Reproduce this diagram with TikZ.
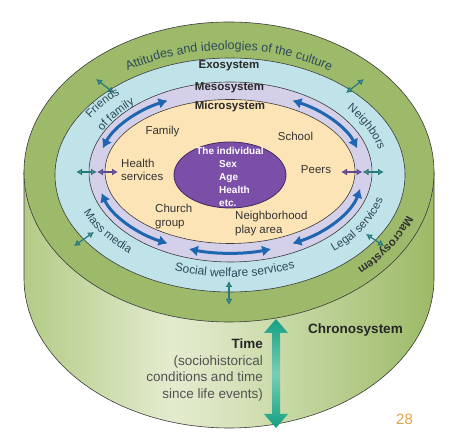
\documentclass[tikz,border=0pt]{standalone}
\usepackage{fontspec}
\setmainfont{Liberation Sans}
\usetikzlibrary{arrows.meta,decorations.text}
\definecolor{macro}{HTML}{9CBA6A}
\definecolor{exo}{HTML}{C0E2E9}
\definecolor{meso}{HTML}{D4D0EA}
\definecolor{micro}{HTML}{FDE4B6}
\definecolor{indfill}{HTML}{7B4FA8}
\definecolor{indline}{HTML}{3F2A63}
\definecolor{outl}{HTML}{3B3B3B}
\definecolor{mesoarr}{HTML}{1F66B1}
\definecolor{tealdark}{HTML}{2A7A7C}
\definecolor{teallight}{HTML}{5AA9A5}
\definecolor{purpdark}{HTML}{5E4A8E}
\definecolor{purplight}{HTML}{8C76B8}
\definecolor{chronoA}{HTML}{14A083}
\definecolor{chronoB}{HTML}{79CDB5}
\definecolor{ringtext}{HTML}{2E4A5A}
\definecolor{maintext}{HTML}{333333}
\definecolor{numcol}{HTML}{E2A244}
\definecolor{cylA}{HTML}{B3CB86}
\definecolor{cylB}{HTML}{E3EBCE}
\definecolor{cylC}{HTML}{D6E2BA}
\definecolor{cylD}{HTML}{9CBA66}
\pgfdeclarehorizontalshading{cylside}{100bp}{color(0bp)=(cylA); color(25bp)=(cylA); color(43bp)=(cylB); color(51bp)=(cylC); color(75bp)=(cylD); color(100bp)=(cylD)}
\begin{document}
\begin{tikzpicture}[x=1pt,y=1pt,
  outline/.style={draw=outl, line width=0.6pt},
  mesoarrow/.style={draw=mesoarr, line width=3pt, arrows={Latex[length=9pt,width=11pt]-Latex[length=9pt,width=11pt]}},
  tealarr/.style={draw=tealdark, line width=1.2pt, arrows={Latex[length=6pt,width=7pt,fill=teallight]-Latex[length=6pt,width=7pt,fill=teallight]}},
  purparr/.style={draw=purpdark, line width=1.2pt, arrows={Latex[length=6pt,width=7pt,fill=purplight]-Latex[length=6pt,width=7pt,fill=purplight]}},
  lab/.style={text=maintext, font=\fontsize{11.5}{13.5}\selectfont, inner sep=0pt},
  syslab/.style={text=maintext!80!black, font=\bfseries\fontsize{11.5}{13.5}\selectfont, inner sep=0pt},
  indlab/.style={text=white, font=\bfseries\fontsize{10}{12}\selectfont, inner sep=0pt, text height=1.5ex, text depth=.25ex}]
\useasboundingbox (0,0) rectangle (458,446);
\fill[white] (0,0) rectangle (458,446);
% cylinder side
\shade[shading=cylside] (24,274) -- (24,168) arc[start angle=180,end angle=360,x radius=205,y radius=150] -- (434,274) -- cycle;
\draw[outline] (24,274) -- (24,168) arc[start angle=180,end angle=360,x radius=205,y radius=150] -- (434,274);
% top face rings
\draw[outline, fill=macro] (229,274) ellipse[x radius=205, y radius=150];
\draw[outline, fill=exo] (230,271) ellipse[x radius=175, y radius=117];
\draw[outline, fill=meso] (230.5,274) ellipse[x radius=141.5, y radius=90];
\draw[outline, fill=micro] (230,274.5) ellipse[x radius=125, y radius=72];
\draw[draw=indline, fill=indfill, line width=0.8pt] (230,271) ellipse[x radius=56, y radius=33];
% mesosystem arrows
\begin{scope}[shift={(230,274)}]
\draw[mesoarrow] (163:133 and 81) arc[start angle=163, end angle=118, x radius=133, y radius=81];
\draw[mesoarrow] (62:133 and 81) arc[start angle=62, end angle=17, x radius=133, y radius=81];
\draw[mesoarrow] (195:133 and 81) arc[start angle=195, end angle=242, x radius=133, y radius=81];
\draw[mesoarrow] (-12:133 and 81) arc[start angle=-12, end angle=-62, x radius=133, y radius=81];
\draw[mesoarrow] (252:133 and 81) arc[start angle=252, end angle=288, x radius=133, y radius=81];
\end{scope}
% small connector arrows
\coordinate (l1) at (76,274); \coordinate (l2) at (97,274); \coordinate (l3) at (118,274);
\coordinate (r1) at (341,274); \coordinate (r2) at (362.5,274); \coordinate (r3) at (384,274);
\draw[tealarr] (l1) -- (l2);
\draw[purparr] (l2) -- (l3);
\draw[purparr] (r1) -- (r2);
\draw[tealarr] (r2) -- (r3);
\coordinate (tla) at (96,367); \coordinate (tlb) at (114,353);
\coordinate (tra) at (346,353); \coordinate (trb) at (364,367);
\coordinate (bla) at (74,200); \coordinate (blb) at (94,214);
\coordinate (bra) at (366,212); \coordinate (brb) at (384,200);
\coordinate (bma) at (229,165); \coordinate (bmb) at (229,141);
\draw[tealarr] (tla) -- (tlb);
\draw[tealarr] (tra) -- (trb);
\draw[tealarr] (bla) -- (blb);
\draw[tealarr] (bra) -- (brb);
\draw[tealarr] (bma) -- (bmb);
% chronosystem arrow
\shade[top color=chronoA, bottom color=chronoA, middle color=chronoB]
  (276,127) -- (288,113) -- (280,113) -- (280,32) -- (288,32) -- (276,18) -- (264,32) -- (272,32) -- (272,113) -- (264,113) -- cycle;
% curved labels
\begin{scope}[shift={(229,273)}]
\path[decorate, decoration={text along path, text align=center,
  text={|\fontsize{12.5}{14}\selectfont\color{ringtext}|Attitudes and ideologies of the culture}}]
  (155:181 and 123) arc[start angle=155, end angle=25, x radius=181, y radius=123];
\path[decorate, decoration={text along path, text align=center,
  text={|\bfseries\fontsize{11.5}{14}\selectfont\color{maintext}|Macrosystem}}]
  (-1:188 and 131) arc[start angle=-1, end angle=-61, x radius=188, y radius=131];
\end{scope}
\begin{scope}[shift={(230,272)}]
\path[decorate, decoration={text along path, text align=center,
  text={|\fontsize{12}{14}\selectfont\color{ringtext}|Social welfare services}}]
  (-125:158 and 103) arc[start angle=-125, end angle=-51, x radius=158, y radius=103];
\path[decorate, decoration={text along path, text align=center,
  text={|\fontsize{11.5}{14}\selectfont\color{ringtext}|Mass media}}]
  (192:158 and 103) arc[start angle=192, end angle=238, x radius=158, y radius=103];
\path[decorate, decoration={text along path, text align=center,
  text={|\fontsize{11.5}{14}\selectfont\color{ringtext}|Legal services}}]
  (-58:158 and 103) arc[start angle=-58, end angle=-2, x radius=158, y radius=103];
\path[decorate, decoration={text along path, text align=center,
  text={|\fontsize{11.5}{14}\selectfont\color{ringtext}|Neighbors}}]
  (53:153 and 101) arc[start angle=53, end angle=-3, x radius=153, y radius=101];
\path[decorate, decoration={text along path, text align=center,
  text={|\fontsize{11.5}{14}\selectfont\color{ringtext}|Friends}}]
  (167:163 and 108) arc[start angle=167, end angle=118, x radius=163, y radius=108];
\path[decorate, decoration={text along path, text align=center,
  text={|\fontsize{11.5}{14}\selectfont\color{ringtext}|of family}}]
  (171:143 and 94) arc[start angle=171, end angle=118, x radius=143, y radius=94];
\end{scope}
% system labels
\node[syslab] (exo) at (229,380) {Exosystem};
\node[syslab] (meso) at (229.5,358) {Mesosystem};
\node[syslab] (micro) at (230,339) {Microsystem};
% microsystem labels
\node[lab] (family) at (162.5,314) {Family};
\node[lab] (school) at (295.5,310) {School};
\node[lab, anchor=west, align=left] (health) at (121,276) {Health\\services};
\node[lab] (peers) at (316,276) {Peers};
\node[lab, anchor=west, align=left] (church) at (155,229.5) {Church\\group};
\node[lab, anchor=west, align=left] (neigh) at (235,222.5) {Neighborhood\\play area};
% individual
\node[indlab] (ind1) at (230,295) {The individual};
\node[indlab, anchor=west] (ind2) at (219,282) {Sex};
\node[indlab, anchor=west] (ind3) at (219,269) {Age};
\node[indlab, anchor=west] (ind4) at (219,256) {Health};
\node[indlab, anchor=west] (ind5) at (219,243) {etc.};
% chronosystem
\node[text=black!85, font=\bfseries\fontsize{13.5}{16}\selectfont, inner sep=0pt] (chrono) at (355.5,116) {Chronosystem};
\node[anchor=east, align=right, inner sep=0pt, text=maintext!85, font=\fontsize{13.5}{16.7}\selectfont] (time) at (263,76)
  {\textcolor{black!85}{\bfseries Time}\\(sociohistorical\\conditions and time\\since life events)};
\node[text=numcol, font=\fontsize{15}{18}\selectfont, inner sep=0pt] (num) at (404.5,27) {28};
\end{tikzpicture}
\end{document}
